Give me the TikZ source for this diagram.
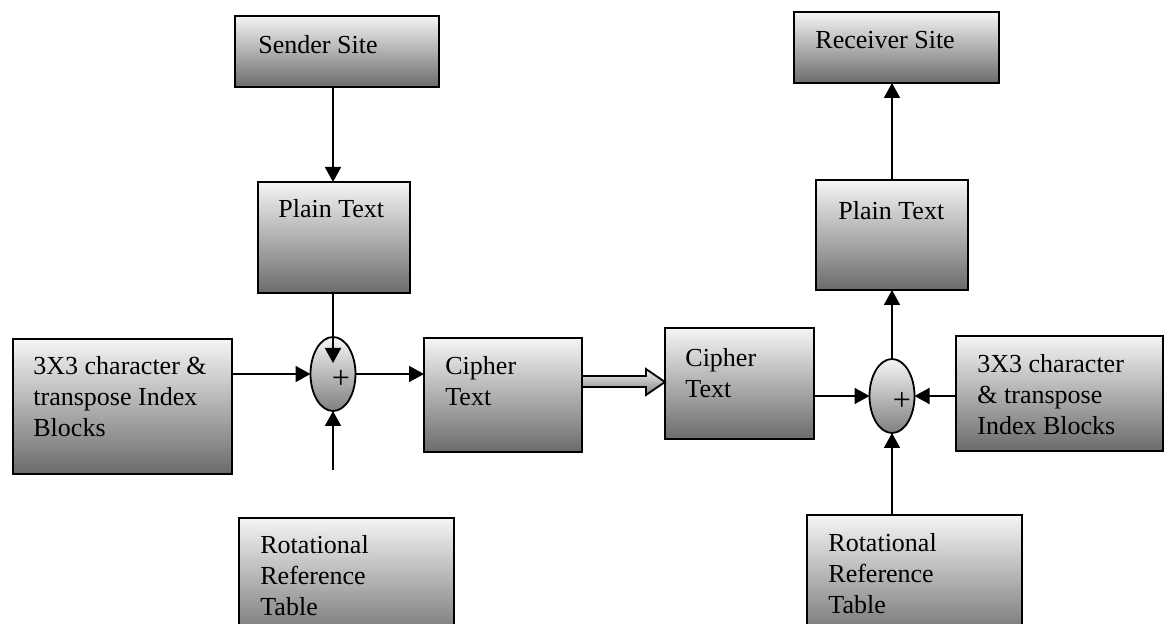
\documentclass[tikz,border=0pt]{standalone}
\usepackage{fontspec}
\setmainfont{Liberation Serif}
\usetikzlibrary{shapes.geometric,arrows.meta,calc}
\begin{document}
\begin{tikzpicture}[x=0.5pt,y=-0.5pt,
  font=\fontsize{13}{15.5}\selectfont,
  blk/.style={draw=black,line width=1pt,top color=white!96!black,middle color=black!22,bottom color=black!58,inner sep=0,outer sep=0,anchor=north west},
  txt/.style={anchor=north west,inner sep=0,align=left},
  sum/.style={ellipse,draw=black,line width=0.9pt,top color=white!96!black,bottom color=black!50,inner sep=0,outer sep=0,minimum width=22.5pt,minimum height=37pt},
  plus/.style={inner sep=0,font=\fontsize{16}{16}\selectfont},
  arr/.style={line width=0.9pt,-{Triangle[length=7.5pt,width=8pt]}},
  hollow/.style={draw=black,line width=0.9pt,top color=white!95!black,bottom color=black!50}
]
\clip (0,0) rectangle (1166,624);
\fill[white] (0,0) rectangle (1166,624);

% boxes
\node[blk,minimum width=102pt,minimum height=35.5pt] (ss) at (235,16) {};
\node[blk,minimum width=76pt,minimum height=55.5pt] (ptl) at (258,182) {};
\node[blk,minimum width=109.5pt,minimum height=67.5pt] (bl) at (13,339) {};
\node[blk,minimum width=79pt,minimum height=57pt] (cl) at (424,338) {};
\node[blk,minimum width=74.5pt,minimum height=55.5pt] (cr) at (665,328) {};
\node[blk,minimum width=103.5pt,minimum height=57.5pt] (br) at (956,336) {};
\node[blk,minimum width=102.5pt,minimum height=35.5pt] (rs) at (794,12) {};
\node[blk,minimum width=76pt,minimum height=55pt] (ptr) at (816,180) {};
\node[blk,minimum width=107.5pt,minimum height=65pt] (rl) at (239,518) {};
\node[blk,minimum width=107.5pt,minimum height=65pt] (rr) at (807,515) {};

% texts
\node[txt] (ss-t) at (258,35) {Sender Site};
\node[txt] (rs-t) at (815,31) {Receiver Site};
\node[txt] (ptl-t) at (278,199) {Plain Text};
\node[txt] (ptr-t) at (838,201) {Plain Text};
\node[txt] (bl-t) at (33,356) {3X3 character \&\\transpose Index\\Blocks};
\node[txt] (cl-t) at (445,356) {Cipher\\Text};
\node[txt] (cr-t) at (685,348) {Cipher\\Text};
\node[txt] (br-t) at (977,354) {3X3 character\\\& transpose\\Index Blocks};
\node[txt] (rl-t) at (260,535) {Rotational\\Reference\\Table};
\node[txt] (rr-t) at (828,533) {Rotational\\Reference\\Table};

% summing junctions
\node[sum] (el) at (333,374) {};
\node[sum] (er) at (892,396) {};
\node[plus] (pl) at (341,379) {+};
\node[plus] (pr) at (902,401) {+};

\coordinate (tipL) at (333,363);
\coordinate (srcL) at (333,470);

% connectors
\draw[arr] (ss.south -| el) -- (ptl.north -| el);
\draw[arr] (ptl.south -| el) -- (tipL);
\draw[arr] (bl.east |- el) -- (el.west);
\draw[arr] (srcL) -- (el.south);
\draw[arr] (el.east) -- (cl.west |- el);

\coordinate (h1) at (0,376);
\coordinate (h2) at (0,369);
\coordinate (hm) at (0,382);
\coordinate (h3) at (0,395);
\coordinate (h4) at (0,387);
\coordinate (hx) at (646,0);
\path[hollow] (cl.east |- h1) -- (hx |- h1) -- (hx |- h2) -- (cr.west |- hm)
  -- (hx |- h3) -- (hx |- h4) -- (cl.east |- h4) -- cycle;

\draw[arr] (cr.east |- er) -- (er.west);
\draw[arr] (br.west |- er) -- (er.east);
\draw[arr] (rr.north -| er) -- (er.south);
\draw[arr] (er.north) -- (ptr.south -| er);
\draw[arr] (ptr.north -| er) -- (rs.south -| er);
\end{tikzpicture}
\end{document}
